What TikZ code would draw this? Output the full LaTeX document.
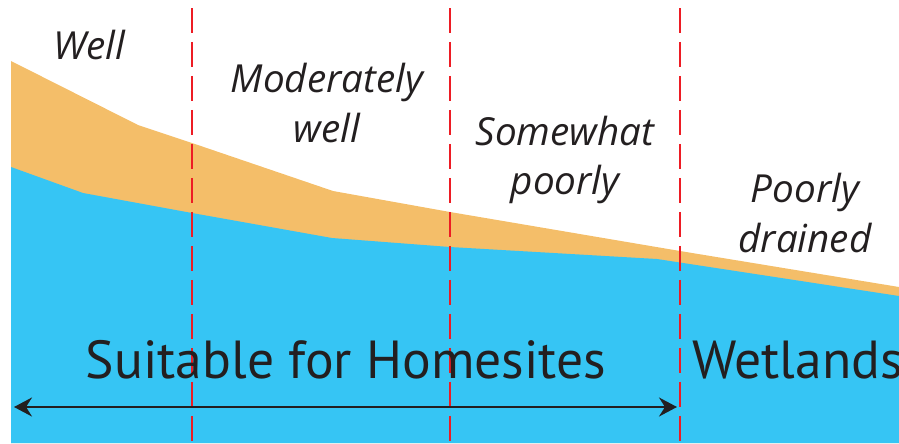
\documentclass[tikz,border=0pt]{standalone}
\usepackage{fontspec}
\setmainfont{Open Sans}
\newfontfamily\landfont{PT Sans}
\usetikzlibrary{arrows.meta}
\definecolor{soilorange}{RGB}{244,190,105}
\definecolor{waterblue}{RGB}{54,197,244}
\definecolor{dashred}{RGB}{237,28,36}
\definecolor{inkblack}{RGB}{35,31,32}

\tikzset{
  zone/.style={dashred, line width=1.1pt, dash pattern=on 0.5cm off 0.18cm},
  drainage/.style={inkblack, font=\fontsize{22}{28}\selectfont\itshape, align=center, inner sep=0pt},
  use/.style={inkblack, font=\landfont\fontsize{30.5}{36}\selectfont, inner sep=0pt}
}

\begin{document}
\begin{tikzpicture}[x=0.02cm, y=-0.02cm]
\useasboundingbox (0,0) rectangle (899,443);
\clip (0,0) rectangle (899,443);

% soil layers
\fill[soilorange] (11,443)--(11,61)--(138,125)--(192,143)--(333,191)--(450,212)--(680,251)--(899,287)--(899,443)--cycle;
\fill[waterblue] (11,443)--(11,167)--(83,193)--(192,213)--(332,238)--(450,247)--(657,259)--(899,296)--(899,443)--cycle;

% zone borders
\draw[zone] (192,8) -- (192,443);
\draw[zone] (450,8) -- (450,443);
\draw[zone] (680,8) -- (680,443);

% drainage classes
\node[drainage] (well) at (89,45) {Well};
\node[drainage] (moderate) at (327,103) {Moderately\\well};
\node[drainage] (somewhat) at (565,160) {Somewhat\\poorly};
\node[drainage] (poorly) at (805,213) {Poorly\\drained};

% land use
\node[use, anchor=base] (homes) at (346,378) {Suitable for Homesites};
\node[use, anchor=base west] (wet) at (692,378) {Wetlands};

\coordinate (arrL) at (14,407);
\coordinate (arrR) at (677,407);
\draw[inkblack, line width=1.3pt, {Stealth[length=3.6mm, width=3.8mm, inset=1.2mm]}-{Stealth[length=3.6mm, width=3.8mm, inset=1.2mm]}] (arrL) -- (arrR);

\end{tikzpicture}
\end{document}
